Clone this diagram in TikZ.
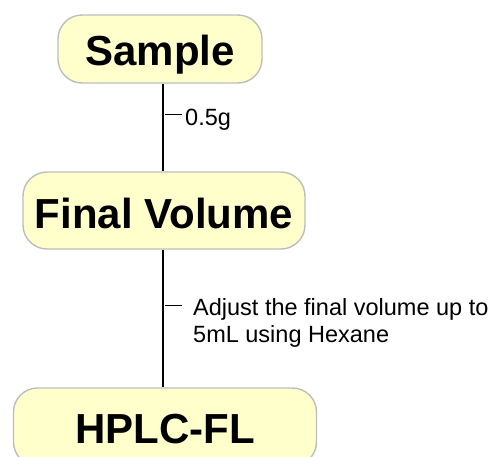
\documentclass[tikz,border=0pt]{standalone}
\usepackage{fontspec}
\setmainfont{Liberation Sans}
\definecolor{boxfill}{HTML}{FFFFCC}
\definecolor{boxline}{HTML}{BDBDBD}
\begin{document}
\begin{tikzpicture}[x=1pt,y=1pt,
  stepbox/.style={draw=boxline,fill=boxfill,line width=1.4pt,rounded corners=24pt,
    inner sep=0pt,text depth=0pt,font=\fontsize{42}{48}\selectfont\bfseries},
  link/.style={line width=1.3pt,black},
  tick/.style={line width=1pt,black},
  lbl/.style={inner sep=0pt,align=left,font=\fontsize{23.5}{27}\selectfont}]
\useasboundingbox (0,0) rectangle (498,-456);
\clip (0,0) rectangle (498,-456);
\node[stepbox,minimum width=204pt,minimum height=68pt,text height=32pt] (s) at (160,-49) {Sample};
\node[stepbox,minimum width=282pt,minimum height=77pt,text height=35pt] (f) at (164,-210.5) {Final Volume};
\node[stepbox,minimum width=303pt,minimum height=78pt,text height=32pt] (h) at (165,-427) {HPLC-FL};
\coordinate (X) at (163,0);
\draw[link] (s.south -| X) -- (f.north -| X);
\draw[link] (f.south -| X) -- (h.north -| X);
\coordinate (t1) at (165,-114);
\coordinate (t2) at (165,-305);
\node[lbl,anchor=base west] (l1) at (185,-125) {0.5g};
\node[lbl,anchor=base west] (l2) at (193,-342) {Adjust the final volume up to\\5mL using Hexane};
\draw[tick] (t1) -- ++(17,0);
\draw[tick] (t2) -- ++(17,0);
\end{tikzpicture}
\end{document}
